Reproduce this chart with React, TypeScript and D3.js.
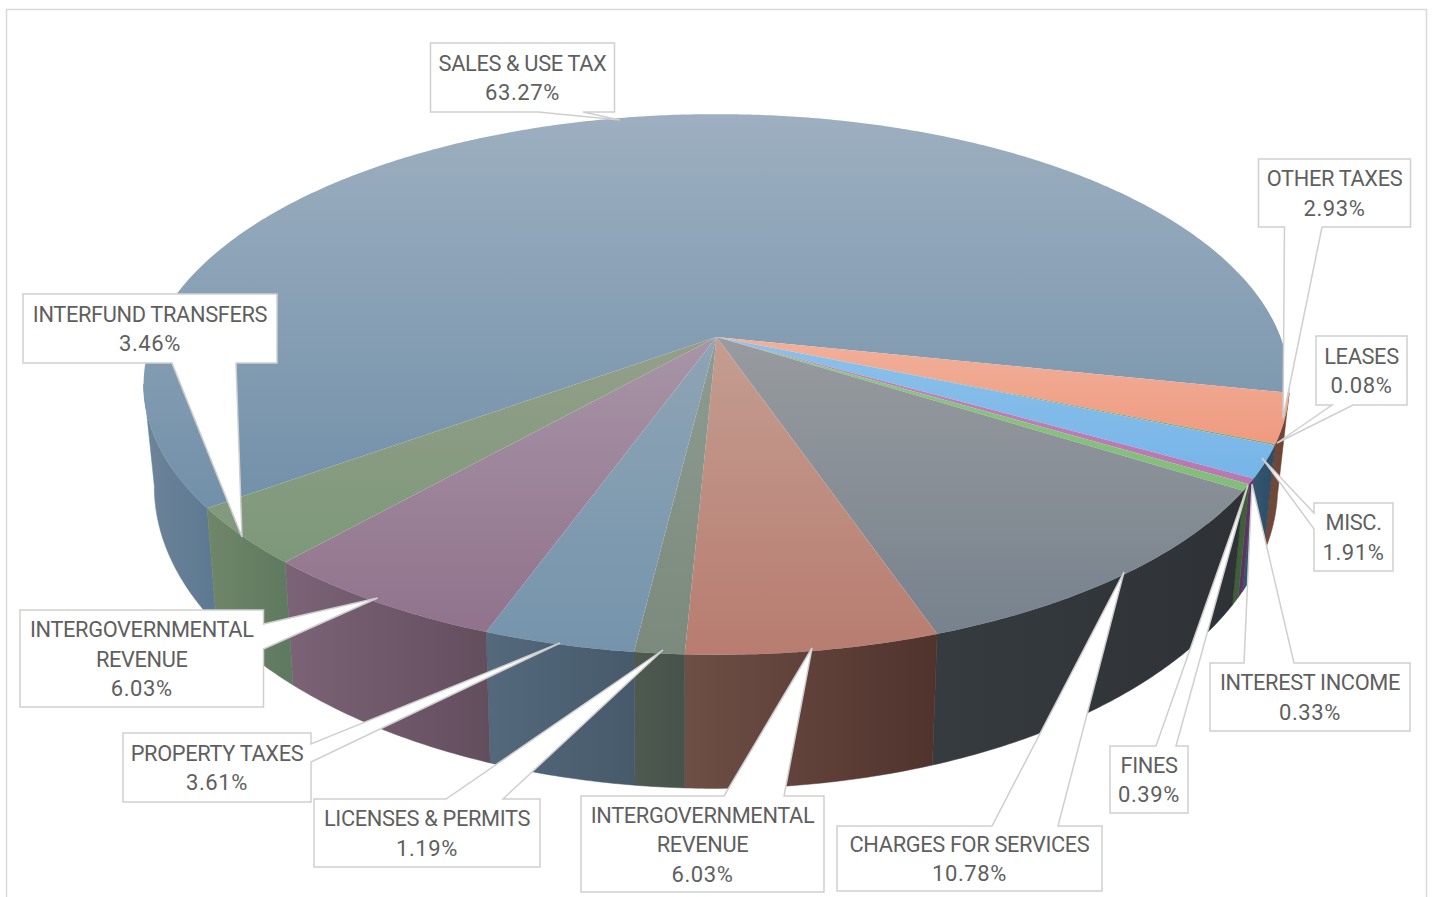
import React from "react";
import * as d3 from "d3";

// Revenue share by source, clockwise from the first slice.
const categories = [
  "SALES & USE TAX",
  "OTHER TAXES",
  "LEASES",
  "MISC.",
  "INTEREST INCOME",
  "FINES",
  "CHARGES FOR SERVICES",
  "INTERGOVERNMENTAL REVENUE",
  "LICENSES & PERMITS",
  "PROPERTY TAXES",
  "INTERGOVERNMENTAL REVENUE",
  "INTERFUND TRANSFERS",
];
const shares = [63.27, 2.93, 0.08, 1.91, 0.33, 0.39, 10.78, 6.03, 1.19, 3.61, 6.03, 3.46];

// Face gradient (top, bottom) and side-wall gradient (left, right) per slice.
const faceTop = ["#9DAFC0", "#F1B09B", "#9DAF85", "#8DC0E9", "#C084BA", "#8BC583", "#989B9F", "#C49D91", "#8F9B92", "#8FA4B5", "#A895A7", "#949F8B"];
const faceBottom = ["#7290A9", "#EF9A7F", "#8AA077", "#76B5E8", "#B878B2", "#82BE79", "#77828D", "#B87C70", "#7B8A7C", "#7594AC", "#90728C", "#7D9879"];
const wallLeft = ["#6E8499", "#70483A", "#5A4030", "#34566F", "#5B3462", "#3E6038", "#363B3F", "#6E4F46", "#4E5A50", "#55697C", "#7C6377", "#708669"];
const wallRight = ["#5E7A92", "#6A4233", "#5A4030", "#2C4C66", "#5B3462", "#3A5A35", "#2E3236", "#50332D", "#47534A", "#465A6C", "#634E5E", "#5F7A60"];

type Side = "top" | "right" | "bottom" | "left";
type Point = [number, number];
interface Callout {
  box: [number, number, number, number];
  side: Side;
  base: [Point, Point];
  tip: Point;
}

// Label boxes with their pointer tails, in slice order.
const callouts: Callout[] = [
  { box: [430.5, 43, 184, 69], side: "bottom", base: [[583, 112], [538, 112]], tip: [620, 120] },
  { box: [1258.5, 159, 152, 68], side: "bottom", base: [[1322, 227], [1284.5, 227]], tip: [1283, 418] },
  { box: [1316, 336, 91, 69], side: "bottom", base: [[1353, 405], [1332, 405]], tip: [1277, 443] },
  { box: [1314, 503, 79, 68], side: "left", base: [[1314, 529], [1314, 513]], tip: [1262, 458] },
  { box: [1210, 663, 200, 68], side: "top", base: [[1244, 663], [1294, 663]], tip: [1252, 484] },
  { box: [1110, 746, 78, 67], side: "top", base: [[1156, 746], [1176, 746]], tip: [1248, 485] },
  { box: [837, 826, 265, 65], side: "top", base: [[992, 826], [1058, 826]], tip: [1124, 572] },
  { box: [581, 796, 243, 96], side: "top", base: [[724, 796], [784, 796]], tip: [812, 648] },
  { box: [314, 799, 226, 68], side: "top", base: [[446, 799], [503, 799]], tip: [663, 650] },
  { box: [123, 733, 188, 69], side: "right", base: [[311, 744], [311, 762]], tip: [560, 643] },
  { box: [20, 610, 243.5, 97], side: "right", base: [[263.5, 624], [263.5, 649]], tip: [377.5, 598] },
  { box: [23, 294, 254, 69], side: "bottom", base: [[236, 363], [172, 363]], tip: [242, 537] },
];

const WIDTH = 1432;
const HEIGHT = 897;
const deg = Math.PI / 180;
const FONT = "Roboto, 'Noto Sans', sans-serif";

// Perspective disc: a unit circle seen from above, with the near edge enlarged.
interface Disc { x0: number; y0: number; a: number; b: number; k: number }
const topDisc: Disc = { x0: 716.5, y0: 337, a: 564, b: 262, k: 0.1756 };
const baseDisc: Disc = { x0: 716, y0: 433, a: 553, b: 293, k: 0.1756 };

const project = (d: Disc, angle: number): Point => {
  const ux = Math.sin(angle);
  const uy = -Math.cos(angle);
  const w = 1 - d.k * uy;
  return [d.x0 + (d.a * ux) / w, d.y0 + (d.b * uy) / w];
};

const sampleArc = (d: Disc, from: number, to: number): Point[] => {
  const steps = Math.max(2, Math.ceil(Math.abs(to - from) / (0.5 * deg)));
  return d3.range(steps + 1).map((i) => project(d, from + ((to - from) * i) / steps));
};

const polygon = d3.line<Point>().x((p) => p[0]).y((p) => p[1]);

const calloutPath = ({ box: [x, y, w, h], side, base, tip }: Callout) => {
  const pts: Point[] = [[x, y]];
  const tail: Point[] = [base[0], tip, base[1]];
  if (side === "top") pts.push(...tail);
  pts.push([x + w, y]);
  if (side === "right") pts.push(...tail);
  pts.push([x + w, y + h]);
  if (side === "bottom") pts.push(...tail);
  pts.push([x, y + h]);
  if (side === "left") pts.push(...tail);
  return polygon(pts) + "Z";
};

const wrapLabel = (name: string) => {
  if (name.length <= 22) return [name];
  const cut = name.lastIndexOf(" ");
  return [name.slice(0, cut), name.slice(cut + 1)];
};

export default function App() {
  const start = 234.1 * deg;
  const arcs = d3
    .pie<number>()
    .sort(null)
    .startAngle(start)
    .endAngle(start + 2 * Math.PI)(shares);

  // Walls run between the two silhouette angles of the disc; the rest is hidden.
  const nearFrom = 100 * deg;
  const nearTo = 260 * deg;
  const walls = arcs.map((s, i) => {
    const a0 = s.startAngle >= 2 * Math.PI ? s.startAngle - 2 * Math.PI : s.startAngle;
    const a1 = a0 + (s.endAngle - s.startAngle);
    const from = Math.max(a0, nearFrom);
    const to = Math.min(a1, nearTo);
    if (to <= from) return null;
    const upper = sampleArc(topDisc, from, to);
    const lower = sampleArc(baseDisc, from, to).reverse();
    const xs = upper.map((p) => p[0]);
    return { i, d: polygon([...upper, ...lower]) + "Z", x1: d3.min(xs)!, x2: d3.max(xs)! };
  });

  return (
    <svg
      width={WIDTH}
      height={HEIGHT}
      viewBox={`0 0 ${WIDTH} ${HEIGHT}`}
      style={{ position: "absolute", left: 0, top: 0, display: "block", background: "#fff" }}
    >
      <defs>
        {shares.map((_, i) => (
          <linearGradient key={`f${i}`} id={`face${i}`} x1="0" y1="0" x2="0" y2="1">
            <stop offset="0" stopColor={faceTop[i]} />
            <stop offset="1" stopColor={faceBottom[i]} />
          </linearGradient>
        ))}
        {walls.map(
          (w) =>
            w && (
              <linearGradient key={`w${w.i}`} id={`wall${w.i}`} gradientUnits="userSpaceOnUse" x1={w.x1} y1="0" x2={w.x2} y2="0">
                <stop offset="0" stopColor={wallLeft[w.i]} />
                <stop offset="1" stopColor={wallRight[w.i]} />
              </linearGradient>
            )
        )}
      </defs>

      <path d={`M6.5 ${HEIGHT + 2}V9.5H1426.5V${HEIGHT + 2}`} fill="none" stroke="#d9d9d9" strokeWidth={1.5} />

      {walls.map(
        (w) =>
          w && <path key={w.i} d={w.d} fill={`url(#wall${w.i})`} stroke={`url(#wall${w.i})`} strokeWidth={0.5} />
      )}

      {arcs.map((s, i) => {
        const rim = sampleArc(topDisc, s.startAngle, s.endAngle);
        const d = polygon([[topDisc.x0, topDisc.y0], ...rim]) + "Z";
        return <path key={i} d={d} fill={`url(#face${i})`} />;
      })}

      {callouts.map((c, i) => {
        const [x, y, w, h] = c.box;
        const nameLines = wrapLabel(categories[i]);
        const lines = [...nameLines, `${shares[i].toFixed(2)}%`];
        const cx = x + w / 2;
        const lineGap = 29.5;
        const firstBaseline = y + h / 2 - ((lines.length - 1) * lineGap) / 2 + 8;
        return (
          <g key={i}>
            <path d={calloutPath(c)} fill="#fff" stroke="#cfcfcf" strokeWidth={1.5} strokeLinejoin="miter" />
            {lines.map((line, j) => {
              const isValue = j === lines.length - 1;
              return (
                <text
                  key={j}
                  x={cx}
                  y={firstBaseline + j * lineGap}
                  textAnchor="middle"
                  fontFamily={FONT}
                  fontSize={isValue ? 22 : 21.8}
                  letterSpacing={isValue ? 0.6 : -0.35}
                  fill="#5f5f5f"
                >
                  {line}
                </text>
              );
            })}
          </g>
        );
      })}
    </svg>
  );
}
